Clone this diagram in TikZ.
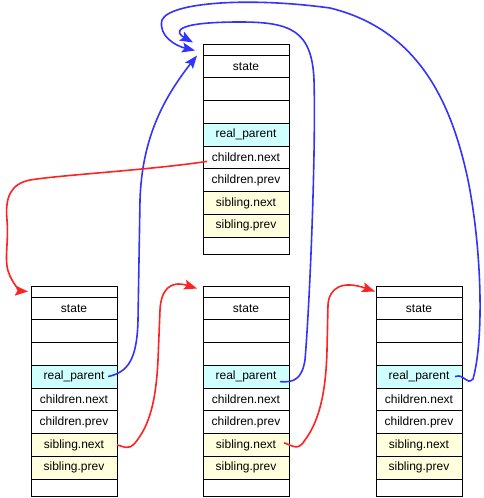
\documentclass[tikz,border=0pt]{standalone}
\usepackage{fontspec}
\setmainfont{Liberation Sans}
\usepackage{tikz}
\usepackage{xcolor}
\usetikzlibrary{arrows.meta}
\definecolor{rpfill}{RGB}{208,255,255}
\definecolor{sibfill}{RGB}{255,255,221}
\definecolor{linkblue}{RGB}{51,51,255}
\definecolor{linkred}{RGB}{255,34,34}
\tikzset{
  field/.style={draw,line width=0.8pt,minimum width=86pt,minimum height=22.75pt,inner sep=0pt,outer sep=0pt,font=\fontsize{12}{14}\selectfont},
  edge row/.style={field,minimum height=11pt},
  end row/.style={field,minimum height=17pt},
  rp row/.style={field,fill=rpfill},
  sib row/.style={field,fill=sibfill},
  blue link/.style={linkblue,line width=1.6pt,-{Stealth[length=13pt,width=10pt,inset=2.5pt]}},
  red link/.style={linkred,line width=1.6pt,-{Stealth[length=13pt,width=10pt,inset=2.5pt]}}
}
\begin{document}
\begin{tikzpicture}[x=1pt,y=-1pt]
\useasboundingbox (0,0) rectangle (483,498);
\node[edge row] (par-top) at (246,49.5) {};
\node[field] (par-state) at (246,66.4) {state};
\node[field] (par-e1) at (246,89.1) {};
\node[field] (par-e2) at (246,111.9) {};
\node[rp row] (par-rp) at (246,134.6) {real\_parent};
\node[field] (par-cn) at (246,157.4) {children.next};
\node[field] (par-cp) at (246,180.1) {children.prev};
\node[sib row] (par-sn) at (246,202.9) {sibling.next};
\node[sib row] (par-sp) at (246,225.6) {sibling.prev};
\node[end row] (par-bot) at (246,245.5) {};
\node[edge row] (ch1-top) at (74,291.5) {};
\node[field] (ch1-state) at (74,308.4) {state};
\node[field] (ch1-e1) at (74,331.1) {};
\node[field] (ch1-e2) at (74,353.9) {};
\node[rp row] (ch1-rp) at (74,376.6) {real\_parent};
\node[field] (ch1-cn) at (74,399.4) {children.next};
\node[field] (ch1-cp) at (74,422.1) {children.prev};
\node[sib row] (ch1-sn) at (74,444.9) {sibling.next};
\node[sib row] (ch1-sp) at (74,467.6) {sibling.prev};
\node[end row] (ch1-bot) at (74,487.5) {};
\node[edge row] (ch2-top) at (246,291.5) {};
\node[field] (ch2-state) at (246,308.4) {state};
\node[field] (ch2-e1) at (246,331.1) {};
\node[field] (ch2-e2) at (246,353.9) {};
\node[rp row] (ch2-rp) at (246,376.6) {real\_parent};
\node[field] (ch2-cn) at (246,399.4) {children.next};
\node[field] (ch2-cp) at (246,422.1) {children.prev};
\node[sib row] (ch2-sn) at (246,444.9) {sibling.next};
\node[sib row] (ch2-sp) at (246,467.6) {sibling.prev};
\node[end row] (ch2-bot) at (246,487.5) {};
\node[edge row] (ch3-top) at (419,291.5) {};
\node[field] (ch3-state) at (419,308.4) {state};
\node[field] (ch3-e1) at (419,331.1) {};
\node[field] (ch3-e2) at (419,353.9) {};
\node[rp row] (ch3-rp) at (419,376.6) {real\_parent};
\node[field] (ch3-cn) at (419,399.4) {children.next};
\node[field] (ch3-cp) at (419,422.1) {children.prev};
\node[sib row] (ch3-sn) at (419,444.9) {sibling.next};
\node[sib row] (ch3-sp) at (419,467.6) {sibling.prev};
\node[end row] (ch3-bot) at (419,487.5) {};
\draw[blue link] ([shift={(-9,0)}]ch1-rp.east) .. controls (128,372) and (137,360) .. (138,320) -- (140,200) .. controls (142,140) and (162,100) .. ([shift={(-6,6)}]par-top.west);
\draw[blue link] ([shift={(-9,5)}]ch2-rp.east) .. controls (295,383) and (302,378) .. (305,360) .. controls (310,300) and (316,150) .. (314,80) .. controls (312,30) and (290,22) .. (240,22) .. controls (170,22) and (176,33) .. ([shift={(-10,-7)}]par-top.west);
\draw[blue link] ([shift={(-7,0)}]ch3-rp.east) .. controls (465,373) and (466,386) .. (473,379) .. controls (484,340) and (482,250) .. (468,180) .. controls (452,105) and (420,30) .. (330,8) .. controls (250,-3) and (170,2) .. (162,20) .. controls (158,36) and (176,46) .. ([shift={(-8,1)}]par-top.west);
\draw[red link] ([shift={(4,4)}]par-cn.west) .. controls (150,170) and (60,175) .. (30,180) .. controls (10,184) and (5,198) .. (7,220) .. controls (9,245) and (3,262) .. (10,276) .. controls (15,287) and (21,291) .. ([shift={(-3,0)}]ch1-top.west);
\draw[red link] (ch1-sn.east) .. controls (123,446) and (128,451) .. (135,443) .. controls (150,425) and (156,400) .. (158,360) -- (160,310) .. controls (161,290) and (170,280) .. ([shift={(-6,-3)}]ch2-top.west);
\draw[red link] ([shift={(-5,-2)}]ch2-sn.east) .. controls (292,445) and (298,452) .. (305,440) .. controls (320,420) and (326,390) .. (327,350) -- (328,305) .. controls (329,288) and (342,280) .. ([shift={(-1,0)}]ch3-top.west);
\end{tikzpicture}
\end{document}
